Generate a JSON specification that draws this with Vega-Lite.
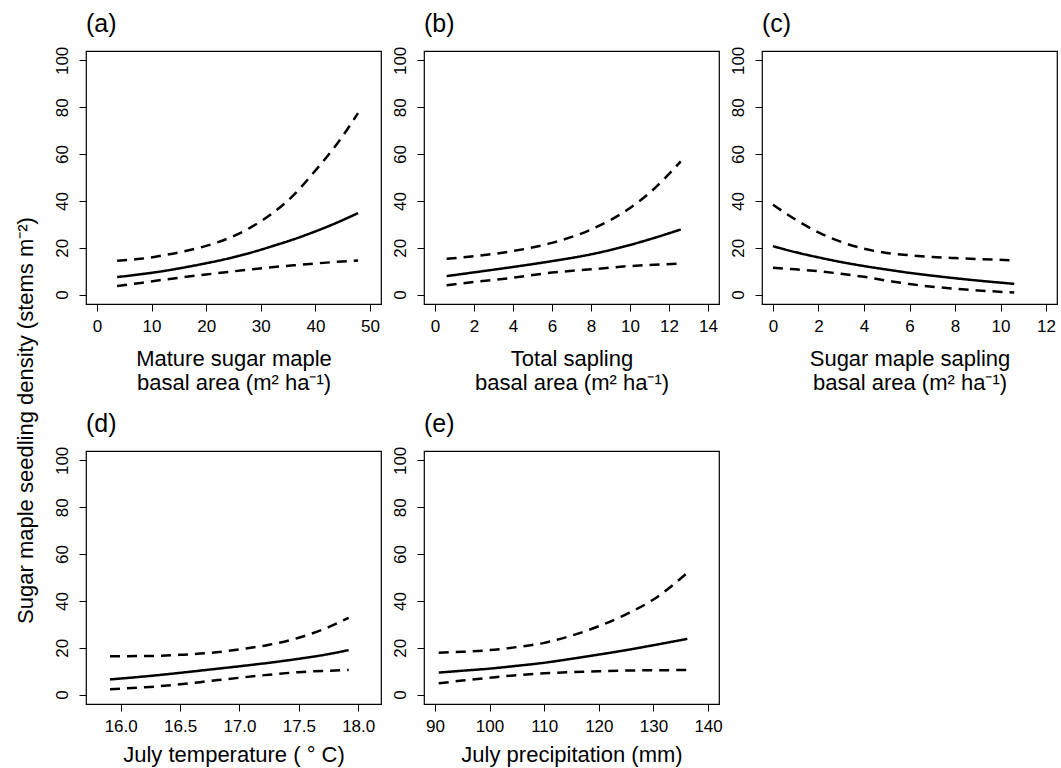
{
  "$schema": "https://vega.github.io/schema/vega-lite/v6.json",
  "autosize": {"type": "none"},
  "padding": {"left": 86, "top": 51, "right": 975, "bottom": 717},
  "background": "white",
  "datasets": {
    "curves": [
      {"p": "a", "x": 3.7, "fit": 7.5, "lo": 3.7, "hi": 14.5},
      {"p": "a", "x": 8, "fit": 8.7, "lo": 5.0, "hi": 15.3},
      {"p": "a", "x": 12, "fit": 10.0, "lo": 6.3, "hi": 16.7},
      {"p": "a", "x": 16, "fit": 11.6, "lo": 7.5, "hi": 18.5},
      {"p": "a", "x": 20, "fit": 13.4, "lo": 8.6, "hi": 20.8},
      {"p": "a", "x": 24, "fit": 15.4, "lo": 9.7, "hi": 24.0},
      {"p": "a", "x": 28, "fit": 17.8, "lo": 10.7, "hi": 28.5},
      {"p": "a", "x": 32, "fit": 20.6, "lo": 11.7, "hi": 34.5},
      {"p": "a", "x": 36, "fit": 23.6, "lo": 12.5, "hi": 42.5},
      {"p": "a", "x": 40, "fit": 27.0, "lo": 13.3, "hi": 53.0},
      {"p": "a", "x": 44, "fit": 30.8, "lo": 14.0, "hi": 64.5},
      {"p": "a", "x": 47.8, "fit": 34.8, "lo": 14.6, "hi": 77.5},

      {"p": "b", "x": 0.6, "fit": 7.9, "lo": 4.0, "hi": 15.3},
      {"p": "b", "x": 2, "fit": 9.5, "lo": 5.4, "hi": 16.4},
      {"p": "b", "x": 4, "fit": 11.8, "lo": 7.2, "hi": 18.6},
      {"p": "b", "x": 6, "fit": 14.3, "lo": 9.4, "hi": 22.1},
      {"p": "b", "x": 8, "fit": 17.2, "lo": 10.8, "hi": 27.8},
      {"p": "b", "x": 10, "fit": 21.2, "lo": 12.2, "hi": 37.0},
      {"p": "b", "x": 11, "fit": 23.6, "lo": 12.7, "hi": 43.4},
      {"p": "b", "x": 12.6, "fit": 27.8, "lo": 13.2, "hi": 56.9},

      {"p": "c", "x": 0, "fit": 20.7, "lo": 11.5, "hi": 38.4},
      {"p": "c", "x": 1, "fit": 18.1, "lo": 10.8, "hi": 32.0},
      {"p": "c", "x": 2, "fit": 15.9, "lo": 10.0, "hi": 26.6},
      {"p": "c", "x": 3, "fit": 13.9, "lo": 8.9, "hi": 22.5},
      {"p": "c", "x": 4, "fit": 12.2, "lo": 7.6, "hi": 19.6},
      {"p": "c", "x": 5, "fit": 10.7, "lo": 6.0, "hi": 17.8},
      {"p": "c", "x": 6, "fit": 9.3, "lo": 4.5, "hi": 16.8},
      {"p": "c", "x": 7, "fit": 8.1, "lo": 3.4, "hi": 16.1},
      {"p": "c", "x": 8, "fit": 7.0, "lo": 2.5, "hi": 15.6},
      {"p": "c", "x": 9, "fit": 6.0, "lo": 1.8, "hi": 15.2},
      {"p": "c", "x": 10.6, "fit": 4.6, "lo": 0.9, "hi": 14.6},

      {"p": "d", "x": 15.91, "fit": 6.5, "lo": 2.3, "hi": 16.4},
      {"p": "d", "x": 16.25, "fit": 8.0, "lo": 3.3, "hi": 16.5},
      {"p": "d", "x": 16.5, "fit": 9.3, "lo": 4.4, "hi": 17.0},
      {"p": "d", "x": 16.75, "fit": 10.7, "lo": 5.8, "hi": 17.8},
      {"p": "d", "x": 17.0, "fit": 12.1, "lo": 7.2, "hi": 19.3},
      {"p": "d", "x": 17.25, "fit": 13.6, "lo": 8.5, "hi": 21.3},
      {"p": "d", "x": 17.5, "fit": 15.3, "lo": 9.6, "hi": 24.3},
      {"p": "d", "x": 17.75, "fit": 17.3, "lo": 10.2, "hi": 28.8},
      {"p": "d", "x": 17.92, "fit": 19.0, "lo": 10.5, "hi": 32.8},

      {"p": "e", "x": 90.7, "fit": 9.4, "lo": 4.8, "hi": 17.9},
      {"p": "e", "x": 95, "fit": 10.2, "lo": 6.0, "hi": 18.3},
      {"p": "e", "x": 100, "fit": 11.1, "lo": 7.2, "hi": 19.0},
      {"p": "e", "x": 105, "fit": 12.3, "lo": 8.3, "hi": 20.3},
      {"p": "e", "x": 110, "fit": 13.6, "lo": 9.1, "hi": 22.1},
      {"p": "e", "x": 115, "fit": 15.3, "lo": 9.6, "hi": 25.2},
      {"p": "e", "x": 120, "fit": 17.1, "lo": 10.0, "hi": 29.2},
      {"p": "e", "x": 125, "fit": 19.0, "lo": 10.3, "hi": 34.3},
      {"p": "e", "x": 130, "fit": 21.1, "lo": 10.4, "hi": 40.6},
      {"p": "e", "x": 136.2, "fit": 23.8, "lo": 10.5, "hi": 52.0}
    ]
  },
  "columns": 3,
  "spacing": {"row": 147, "column": 43},
  "bounds": "flush",
  "concat": [
    {
      "width": 295, "height": 253,
      "title": {"text": "(a)"},
      "data": {"name": "curves"},
      "transform": [{"filter": "datum.p === 'a'"}, {"fold": ["fit", "lo", "hi"], "as": ["series", "val"]}],
      "mark": {"type": "line", "color": "black", "strokeWidth": 2.5, "interpolate": "monotone", "clip": true},
      "encoding": {
        "x": {"field": "x", "type": "quantitative", "scale": {"domain": [-2, 52], "nice": false, "zero": false},
              "axis": {"values": [0, 10, 20, 30, 40, 50], "title": ["Mature sugar maple", "basal area (m² ha⁻¹)"], "titleY": 61}},
        "y": {"field": "val", "type": "quantitative", "scale": {"domain": [-4, 104], "nice": false, "zero": false},
              "axis": {"values": [0, 20, 40, 60, 80, 100], "title": "Sugar maple seedling density (stems m⁻²)",
                       "titleX": -54, "titleY": 369, "titleAngle": -90, "titleAlign": "center", "titleBaseline": "alphabetic", "titleFontSize": 22}},
        "strokeDash": {"field": "series", "type": "nominal", "scale": {"domain": ["fit", "lo", "hi"], "range": [[1, 0], [10, 7], [10, 7]]}, "legend": null}
      }
    },
    {
      "width": 295, "height": 253,
      "title": {"text": "(b)"},
      "data": {"name": "curves"},
      "transform": [{"filter": "datum.p === 'b'"}, {"fold": ["fit", "lo", "hi"], "as": ["series", "val"]}],
      "mark": {"type": "line", "color": "black", "strokeWidth": 2.5, "interpolate": "monotone", "clip": true},
      "encoding": {
        "x": {"field": "x", "type": "quantitative", "scale": {"domain": [-0.56, 14.56], "nice": false, "zero": false},
              "axis": {"values": [0, 2, 4, 6, 8, 10, 12, 14], "title": ["Total sapling", "basal area (m² ha⁻¹)"], "titleY": 61}},
        "y": {"field": "val", "type": "quantitative", "scale": {"domain": [-4, 104], "nice": false, "zero": false},
              "axis": {"values": [0, 20, 40, 60, 80, 100], "title": null}},
        "strokeDash": {"field": "series", "type": "nominal", "scale": {"domain": ["fit", "lo", "hi"], "range": [[1, 0], [10, 7], [10, 7]]}, "legend": null}
      }
    },
    {
      "width": 295, "height": 253,
      "title": {"text": "(c)"},
      "data": {"name": "curves"},
      "transform": [{"filter": "datum.p === 'c'"}, {"fold": ["fit", "lo", "hi"], "as": ["series", "val"]}],
      "mark": {"type": "line", "color": "black", "strokeWidth": 2.5, "interpolate": "monotone", "clip": true},
      "encoding": {
        "x": {"field": "x", "type": "quantitative", "scale": {"domain": [-0.48, 12.48], "nice": false, "zero": false},
              "axis": {"values": [0, 2, 4, 6, 8, 10, 12], "title": ["Sugar maple sapling", "basal area (m² ha⁻¹)"], "titleY": 61}},
        "y": {"field": "val", "type": "quantitative", "scale": {"domain": [-4, 104], "nice": false, "zero": false},
              "axis": {"values": [0, 20, 40, 60, 80, 100], "title": null}},
        "strokeDash": {"field": "series", "type": "nominal", "scale": {"domain": ["fit", "lo", "hi"], "range": [[1, 0], [10, 7], [10, 7]]}, "legend": null}
      }
    },
    {
      "width": 295, "height": 253,
      "title": {"text": "(d)"},
      "data": {"name": "curves"},
      "transform": [{"filter": "datum.p === 'd'"}, {"fold": ["fit", "lo", "hi"], "as": ["series", "val"]}],
      "mark": {"type": "line", "color": "black", "strokeWidth": 2.5, "interpolate": "monotone", "clip": true},
      "encoding": {
        "x": {"field": "x", "type": "quantitative", "scale": {"domain": [15.708, 18.192], "nice": false, "zero": false},
              "axis": {"values": [16, 16.5, 17, 17.5, 18], "format": ".1f", "title": "July temperature ( ° C)", "titleY": 57}},
        "y": {"field": "val", "type": "quantitative", "scale": {"domain": [-4, 104], "nice": false, "zero": false},
              "axis": {"values": [0, 20, 40, 60, 80, 100], "title": null}},
        "strokeDash": {"field": "series", "type": "nominal", "scale": {"domain": ["fit", "lo", "hi"], "range": [[1, 0], [10, 7], [10, 7]]}, "legend": null}
      }
    },
    {
      "width": 295, "height": 253,
      "title": {"text": "(e)"},
      "data": {"name": "curves"},
      "transform": [{"filter": "datum.p === 'e'"}, {"fold": ["fit", "lo", "hi"], "as": ["series", "val"]}],
      "mark": {"type": "line", "color": "black", "strokeWidth": 2.5, "interpolate": "monotone", "clip": true},
      "encoding": {
        "x": {"field": "x", "type": "quantitative", "scale": {"domain": [88, 142], "nice": false, "zero": false},
              "axis": {"values": [90, 100, 110, 120, 130, 140], "title": "July precipitation (mm)", "titleY": 57}},
        "y": {"field": "val", "type": "quantitative", "scale": {"domain": [-4, 104], "nice": false, "zero": false},
              "axis": {"values": [0, 20, 40, 60, 80, 100], "title": null}},
        "strokeDash": {"field": "series", "type": "nominal", "scale": {"domain": ["fit", "lo", "hi"], "range": [[1, 0], [10, 7], [10, 7]]}, "legend": null}
      }
    }
  ],
  "config": {
    "font": "Liberation Sans",
    "view": {"stroke": "black", "strokeWidth": 1.2},
    "axis": {
      "grid": false, "domain": false,
      "tickColor": "black", "tickSize": 7, "tickWidth": 1,
      "labelColor": "black", "labelFontSize": 17, "labelFont": "Liberation Sans",
      "labelOverlap": false, "labelFlush": false,
      "titleColor": "black", "titleFontSize": 22, "titleFontWeight": "normal", "titleFont": "Liberation Sans"
    },
    "axisX": {"labelPadding": 7, "labelBaseline": "top", "titleBaseline": "alphabetic", "titleLineHeight": 24, "titleAlign": "center"},
    "axisY": {"labelAngle": -90, "labelAlign": "center", "labelBaseline": "middle", "labelPadding": 17},
    "title": {"anchor": "start", "frame": "group", "fontSize": 25, "fontWeight": "normal", "color": "black", "baseline": "alphabetic", "offset": 9, "font": "Liberation Sans"}
  }
}
